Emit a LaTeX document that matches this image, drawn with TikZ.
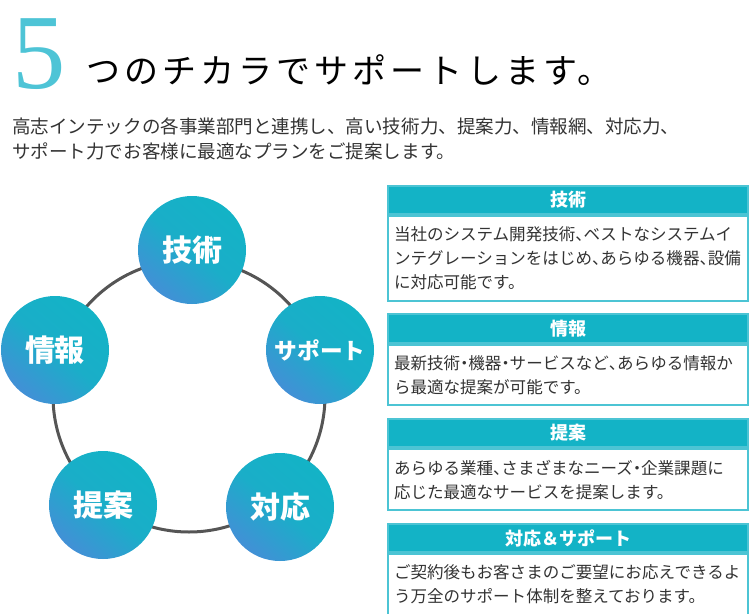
\documentclass[tikz,border=0pt]{standalone}
\usepackage{fontspec}
\setmainfont{Noto Sans CJK JP}
\newfontfamily\numfont{Liberation Serif}
\usepackage{xcolor}
\usepackage{tikz}
\usetikzlibrary{positioning}
\definecolor{teal1}{HTML}{13B3C6}
\definecolor{blue1}{HTML}{4290D6}
\definecolor{ringgray}{HTML}{555555}
\definecolor{txtgray}{HTML}{333333}
\definecolor{fivecol}{HTML}{4EC4D6}
\definecolor{boxline}{HTML}{4CC4D4}
% half-width punctuation
\newcommand\hw[1]{{\addfontfeatures{RawFeature=+halt}#1}}

\begin{document}
\begin{tikzpicture}[x=0.75pt,y=-0.75pt,
  ball/.style={circle,minimum size=81pt,inner sep=0pt,top color=teal1,bottom color=blue1,middle color=teal1!85!blue1,shading angle=-40,text=white,font=\bfseries\fontsize{22.5}{26}\selectfont},
  head/.style={draw=boxline,line width=1.5pt,fill=teal1,minimum width=270pt,minimum height=21.4pt,inner sep=0pt,text=white,font=\bfseries\fontsize{13.5}{16}\selectfont},
  body/.style={draw=boxline,line width=1.5pt,fill=white,text width=261pt,inner xsep=4.5pt,inner ysep=8pt,align=left,text=txtgray,font=\fontsize{12.4}{18}\selectfont}]
\useasboundingbox (0,0) rectangle (750,614);
% title
\node[anchor=base west,inner sep=0pt,text=fivecol,font=\numfont\fontsize{80}{80}\selectfont] (five) at (12,88) {5};
\node[anchor=west,inner sep=0pt,text=black,font=\fontsize{25.5}{30}\selectfont\addfontfeatures{LetterSpace=12}] (title) at (86,70) {つのチカラでサポートします。};
\node[anchor=west,inner sep=0pt,align=left,text=txtgray,font=\fontsize{13.9}{18.75}\selectfont] (intro) at (12,138.5)
  {高志インテックの各事業部門と連携し、高い技術力、提案力、情報網、対応力、\\サポート力でお客様に最適なプランをご提案します。};
% ring of five
\coordinate (mid) at (189,396);
\draw[ringgray,line width=2.25pt] (mid) circle[radius=136];
\node[ball] (tech) at (192,250) {技術};
\node[ball] (info) at (55,350) {情報};
\node[ball,font=\bfseries\fontsize{17}{20}\selectfont] (supp) at (320,350) {サポート};
\node[ball] (prop) at (103,505) {提案};
\node[ball] (resp) at (280,507) {対応};
% boxes
\node[head] (h1) at (568,200) {技術};
\node[body,below=0pt of h1] (b1) {当社のシステム開発技術\hw{、}ベストなシステムイ\\ンテグレーションをはじめ\hw{、}あらゆる機器\hw{、}設備\\に対応可能です。};
\node[head] (h2) at (568,328.5) {情報};
\node[body,below=0pt of h2] (b2) {最新技術\hw{・}機器\hw{・}サービスなど\hw{、}あらゆる情報か\\ら最適な提案が可能です。};
\node[head] (h3) at (568,433) {提案};
\node[body,below=0pt of h3] (b3) {あらゆる業種\hw{、}さまざまなニーズ\hw{・}企業課題に\\応じた最適なサービスを提案します。};
\node[head] (h4) at (568,538) {対応＆サポート};
\node[body,below=0pt of h4] (b4) {ご契約後もお客さまのご要望にお応えできるよ\\う万全のサポート体制を整えております。};
\end{tikzpicture}
\end{document}
